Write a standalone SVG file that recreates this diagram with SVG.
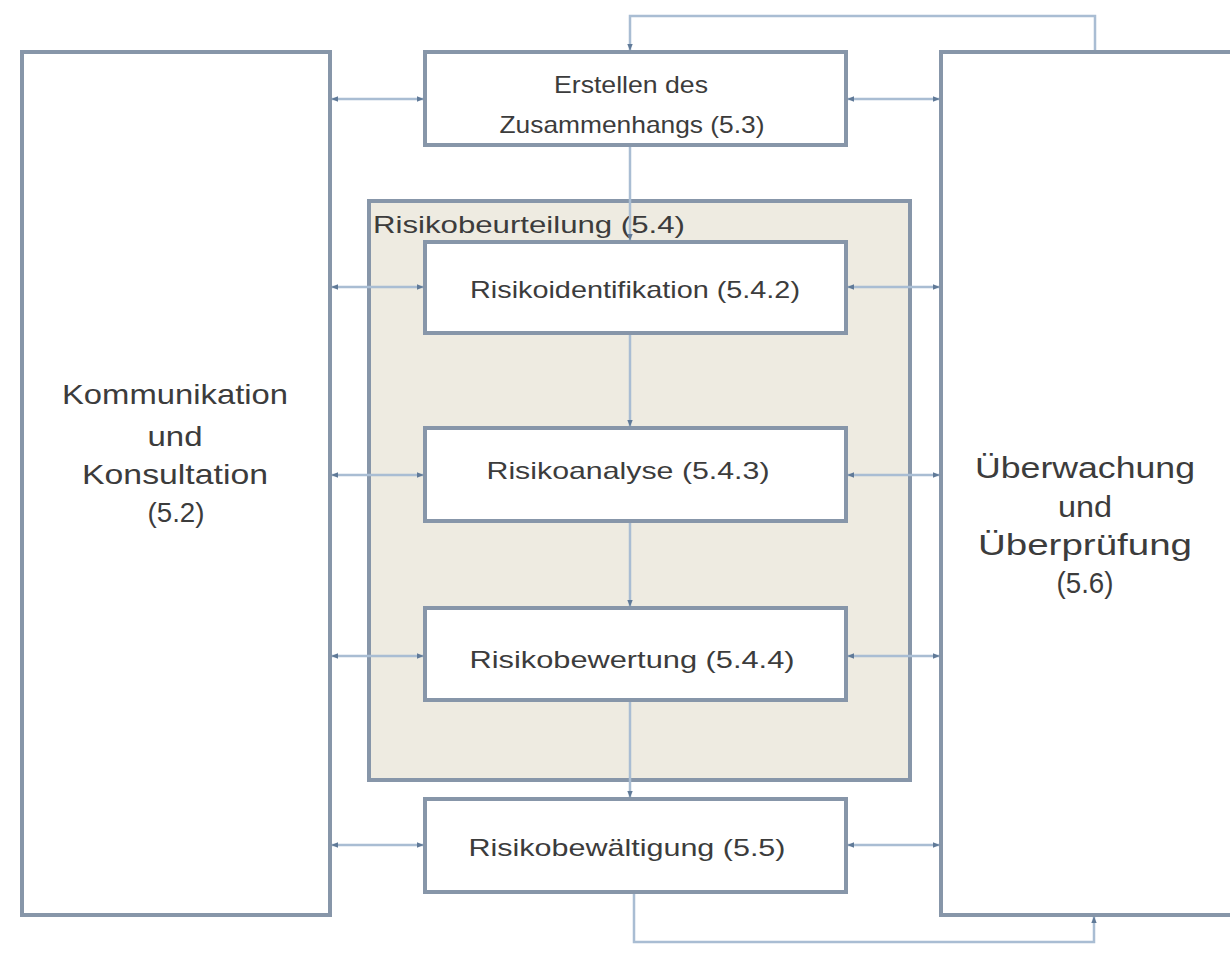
<svg xmlns="http://www.w3.org/2000/svg" width="1230" height="953" viewBox="0 0 1230 953">
<style>
.box{fill:#ffffff;stroke:#8796a9;stroke-width:4}
.cont{fill:#eeebe1;stroke:#8796a9;stroke-width:4}
.con{fill:none;stroke:#a9bdd3;stroke-width:2.5}
.t{font-family:"Liberation Sans",Arial,sans-serif;fill:#3c3c3c;text-anchor:middle}
.s{font-size:24px}
.l{font-size:28px}
.r{font-size:30px}
</style>
<defs>
<marker id="ah" viewBox="0 0 10 10" refX="9" refY="5" markerWidth="7" markerHeight="7" orient="auto-start-reverse" markerUnits="userSpaceOnUse">
<path d="M0,1 L10,5 L0,9 z" fill="#607a98"/>
</marker>
</defs>
<rect width="1230" height="953" fill="#ffffff"/>
<g id="kommunikation">
<rect class="box" x="22" y="52" width="308" height="863"/>
<text class="t l" x="175" y="404" textLength="226" lengthAdjust="spacingAndGlyphs">Kommunikation</text>
<text class="t l" x="175" y="446" textLength="55" lengthAdjust="spacingAndGlyphs">und</text>
<text class="t l" x="175" y="484" textLength="186" lengthAdjust="spacingAndGlyphs">Konsultation</text>
<text class="t l" x="176" y="522" textLength="57" lengthAdjust="spacingAndGlyphs">(5.2)</text>
</g>
<g id="ueberwachung">
<rect class="box" x="941" y="52" width="300" height="863"/>
<text class="t r" x="1085" y="478" textLength="220" lengthAdjust="spacingAndGlyphs">Überwachung</text>
<text class="t r" x="1085" y="517" textLength="54" lengthAdjust="spacingAndGlyphs">und</text>
<text class="t r" x="1085" y="555" textLength="214" lengthAdjust="spacingAndGlyphs">Überprüfung</text>
<text class="t r" x="1085" y="593" textLength="57" lengthAdjust="spacingAndGlyphs">(5.6)</text>
</g>
<g id="risikobeurteilung">
<rect class="cont" x="369" y="201" width="541" height="579"/>
<text class="t s" x="373" y="233" style="text-anchor:start" textLength="312" lengthAdjust="spacingAndGlyphs">Risikobeurteilung (5.4)</text>
</g>
<g id="erstellen">
<rect class="box" x="425" y="52" width="421" height="93"/>
<text class="t s" x="631" y="93" textLength="154" lengthAdjust="spacingAndGlyphs">Erstellen des</text>
<text class="t s" x="632" y="133" textLength="265" lengthAdjust="spacingAndGlyphs">Zusammenhangs (5.3)</text>
</g>
<g id="risikoidentifikation">
<rect class="box" x="425" y="242" width="421" height="91"/>
<text class="t s" x="635" y="298" textLength="330" lengthAdjust="spacingAndGlyphs">Risikoidentifikation (5.4.2)</text>
</g>
<g id="risikoanalyse">
<rect class="box" x="425" y="428" width="421" height="93"/>
<text class="t s" x="628" y="479" textLength="283" lengthAdjust="spacingAndGlyphs">Risikoanalyse (5.4.3)</text>
</g>
<g id="risikobewertung">
<rect class="box" x="425" y="608" width="421" height="92"/>
<text class="t s" x="632" y="668" textLength="325" lengthAdjust="spacingAndGlyphs">Risikobewertung (5.4.4)</text>
</g>
<g id="risikobewaeltigung">
<rect class="box" x="425" y="799" width="421" height="93"/>
<text class="t s" x="627" y="856" textLength="317" lengthAdjust="spacingAndGlyphs">Risikobewältigung (5.5)</text>
</g>
<g id="connectors">
<line class="con" x1="332" y1="99" x2="423" y2="99" marker-start="url(#ah)" marker-end="url(#ah)"/>
<line class="con" x1="848" y1="99" x2="939" y2="99" marker-start="url(#ah)" marker-end="url(#ah)"/>
<line class="con" x1="332" y1="287" x2="423" y2="287" marker-start="url(#ah)" marker-end="url(#ah)"/>
<line class="con" x1="848" y1="287" x2="939" y2="287" marker-start="url(#ah)" marker-end="url(#ah)"/>
<line class="con" x1="332" y1="475" x2="423" y2="475" marker-start="url(#ah)" marker-end="url(#ah)"/>
<line class="con" x1="848" y1="475" x2="939" y2="475" marker-start="url(#ah)" marker-end="url(#ah)"/>
<line class="con" x1="332" y1="656" x2="423" y2="656" marker-start="url(#ah)" marker-end="url(#ah)"/>
<line class="con" x1="848" y1="656" x2="939" y2="656" marker-start="url(#ah)" marker-end="url(#ah)"/>
<line class="con" x1="332" y1="845" x2="423" y2="845" marker-start="url(#ah)" marker-end="url(#ah)"/>
<line class="con" x1="848" y1="845" x2="939" y2="845" marker-start="url(#ah)" marker-end="url(#ah)"/>
<line class="con" x1="630" y1="147" x2="630" y2="240" marker-end="url(#ah)"/>
<line class="con" x1="630" y1="335" x2="630" y2="426" marker-end="url(#ah)"/>
<line class="con" x1="630" y1="523" x2="630" y2="606" marker-end="url(#ah)"/>
<line class="con" x1="630" y1="702" x2="630" y2="797" marker-end="url(#ah)"/>
<polyline class="con" points="1095,50 1095,16 630,16 630,50" marker-end="url(#ah)"/>
<polyline class="con" points="634,894 634,942 1094,942 1094,917" marker-end="url(#ah)"/>
</g>
</svg>
